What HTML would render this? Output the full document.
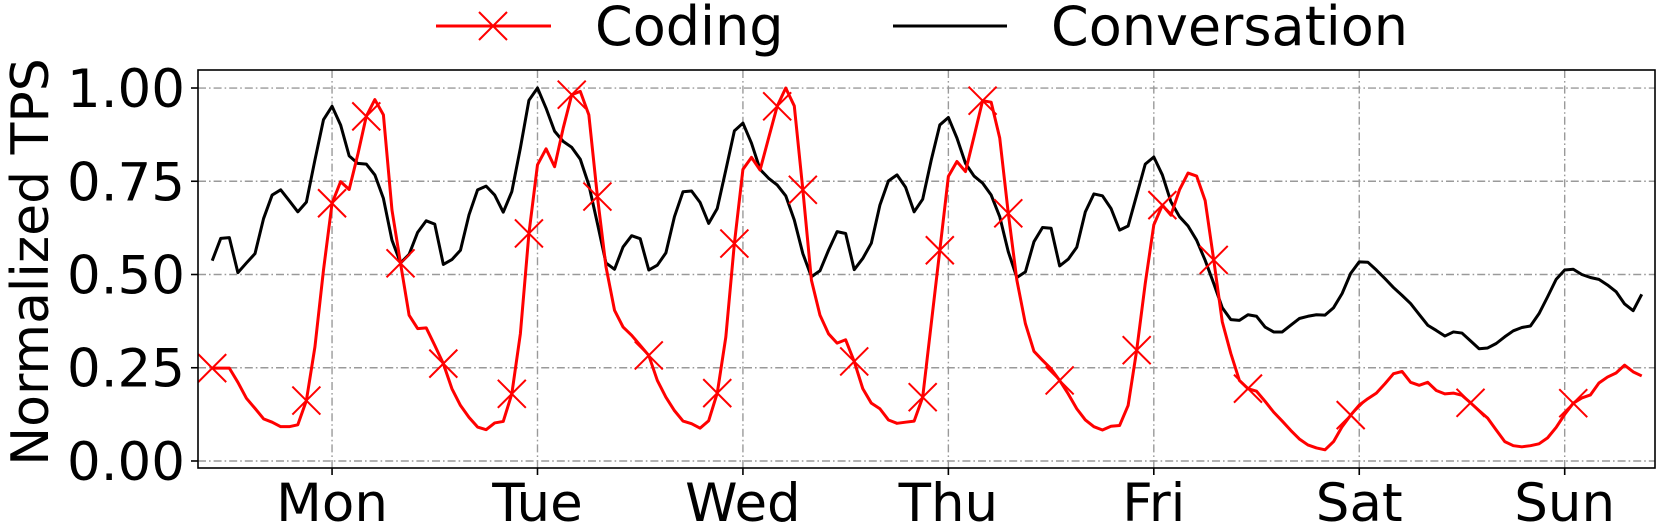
<!DOCTYPE html>
<html><head><meta charset="utf-8"><style>
html,body{margin:0;padding:0;background:#fff;}
svg{display:block;font-family:"DejaVu Sans","Liberation Sans",sans-serif;}
</style></head><body>
<svg id="chart" width="1661" height="527" viewBox="0 0 1661 527" xmlns="http://www.w3.org/2000/svg">
<g id="grid"></g>
<g id="series"></g>
<rect x="198" y="70" width="1457" height="398" fill="none" stroke="#000" stroke-width="1.6"/>
<g id="axes"></g>
<text x="0" y="0" transform="translate(48,262) rotate(-90)" text-anchor="middle" font-size="52" fill="#000">Normalized TPS</text>
<g>
<g>
<line x1="436" y1="26" x2="551" y2="26" stroke="#ff0000" stroke-width="3"/>
<path d="M479 12 L507 40 M507 12 L479 40" stroke="#ff0000" stroke-width="2"/>
<text x="595" y="45" font-size="54" fill="#000">Coding</text>
</g>
<g>
<line x1="893" y1="26" x2="1007" y2="26" stroke="#000" stroke-width="3"/>
<text x="1051" y="45" font-size="54" fill="#000">Conversation</text>
</g>
</g>
</svg>
<script>
const dayLabels = ["Mon","Tue","Wed","Thu","Fri","Sat","Sun"];
const dayTickHours = [14,38,62,86,110,134,158];
const yTicks = [0,0.25,0.5,0.75,1.0];
const yTickLabels = ["0.00","0.25","0.50","0.75","1.00"];
const codingValues = [0.249,0.249,0.249,0.211,0.168,0.141,0.113,0.104,0.092,0.092,0.097,0.162,0.306,0.512,0.691,0.749,0.728,0.821,0.924,0.969,0.928,0.673,0.53,0.391,0.355,0.357,0.31,0.261,0.194,0.149,0.117,0.091,0.084,0.102,0.106,0.18,0.341,0.61,0.794,0.837,0.789,0.892,0.982,0.991,0.928,0.709,0.521,0.404,0.359,0.337,0.31,0.283,0.216,0.171,0.135,0.107,0.1,0.088,0.108,0.182,0.332,0.583,0.782,0.814,0.78,0.866,0.951,1.0,0.952,0.727,0.485,0.391,0.341,0.316,0.325,0.267,0.194,0.155,0.14,0.11,0.101,0.104,0.107,0.171,0.368,0.565,0.763,0.803,0.776,0.87,0.966,0.962,0.866,0.664,0.485,0.368,0.294,0.27,0.247,0.216,0.18,0.14,0.11,0.092,0.083,0.093,0.095,0.149,0.297,0.476,0.633,0.686,0.659,0.727,0.772,0.764,0.698,0.539,0.373,0.288,0.216,0.194,0.187,0.16,0.131,0.107,0.082,0.059,0.043,0.035,0.03,0.052,0.092,0.123,0.15,0.167,0.182,0.207,0.234,0.24,0.211,0.203,0.211,0.189,0.18,0.182,0.176,0.156,0.135,0.115,0.083,0.052,0.041,0.038,0.041,0.046,0.062,0.09,0.125,0.155,0.169,0.177,0.209,0.225,0.236,0.257,0.239,0.228];
const conversationValues = [0.537,0.597,0.599,0.505,0.531,0.556,0.65,0.713,0.727,0.698,0.668,0.694,0.807,0.915,0.951,0.901,0.818,0.798,0.796,0.767,0.704,0.592,0.531,0.554,0.613,0.644,0.635,0.527,0.54,0.565,0.66,0.727,0.737,0.713,0.667,0.722,0.839,0.967,1.0,0.946,0.884,0.857,0.841,0.809,0.74,0.637,0.531,0.514,0.574,0.604,0.596,0.512,0.525,0.558,0.655,0.722,0.724,0.693,0.637,0.677,0.78,0.885,0.906,0.852,0.782,0.758,0.74,0.711,0.646,0.556,0.494,0.51,0.565,0.615,0.61,0.513,0.543,0.584,0.686,0.751,0.767,0.734,0.668,0.702,0.807,0.901,0.921,0.866,0.798,0.764,0.745,0.713,0.655,0.561,0.492,0.507,0.588,0.626,0.624,0.523,0.541,0.573,0.668,0.716,0.711,0.677,0.619,0.63,0.713,0.796,0.815,0.767,0.695,0.655,0.63,0.592,0.538,0.476,0.411,0.379,0.377,0.392,0.388,0.359,0.346,0.346,0.364,0.382,0.388,0.392,0.391,0.411,0.449,0.503,0.534,0.533,0.512,0.489,0.465,0.444,0.422,0.393,0.364,0.35,0.335,0.346,0.343,0.322,0.301,0.303,0.315,0.333,0.349,0.358,0.362,0.395,0.44,0.487,0.512,0.514,0.5,0.492,0.487,0.472,0.454,0.421,0.403,0.447];
const codingMarkerHours = [0,11,14,18,22,27,35,37,42,45,51,59,61,66,69,75,83,85,90,93,99,108,111,117,121,133,147,159];

const NS="http://www.w3.org/2000/svg";
const X0=198,X1=1655,Y0=70,Y1=468;
const xDom=[-1.66,168.55], yDom=[-0.0188,1.0483];
function xs(h){return X0+(h-xDom[0])/(xDom[1]-xDom[0])*(X1-X0);}
function ys(v){return Y1-(v-yDom[0])/(yDom[1]-yDom[0])*(Y1-Y0);}
function mk(tag,attrs,parent){const e=document.createElementNS(NS,tag);for(const k in attrs)e.setAttribute(k,attrs[k]);parent.appendChild(e);return e;}
const grid=document.getElementById('grid'),axes=document.getElementById('axes'),series=document.getElementById('series');
const dash="8,3,1.6,3";
yTicks.forEach((v,k)=>{
  const y=ys(v);
  const g=mk('line',{x1:X0,x2:X1,y1:y,y2:y,stroke:'#9a9a9a','stroke-width':1.4,'stroke-dasharray':dash},grid);
  
  
  const t=mk('line',{x1:X0-7,x2:X0,y1:y,y2:y,stroke:'#000','stroke-width':1.6},axes);
  
  
  const tx=mk('text',{x:185,y:y+19,'text-anchor':'end','font-size':53,fill:'#000'},axes);
  tx.textContent=yTickLabels[k];
  
  
});
dayTickHours.forEach((h,k)=>{
  const x=xs(h);
  const g=mk('line',{x1:x,x2:x,y1:Y0,y2:Y1,stroke:'#9a9a9a','stroke-width':1.4,'stroke-dasharray':dash},grid);
  
  
  const t=mk('line',{x1:x,x2:x,y1:Y1,y2:Y1+7,stroke:'#000','stroke-width':1.6},axes);
  
  
  const tx=mk('text',{x:x,y:521,'text-anchor':'middle','font-size':53,fill:'#000'},axes);
  tx.textContent=dayLabels[k];
  
  
});
function pts(vals){return vals.map((v,i)=>[xs(i),ys(v)]);}
const convPts=pts(conversationValues);
const cl=mk('polyline',{points:convPts.map(p=>p.join(',')).join(' '),fill:'none',stroke:'#000','stroke-width':3,'stroke-linejoin':'round'},series);


const codPts=pts(codingValues);
const rl=mk('polyline',{points:codPts.map(p=>p.join(',')).join(' '),fill:'none',stroke:'#ff0000','stroke-width':3,'stroke-linejoin':'round'},series);


codingMarkerHours.forEach(h=>{
  if(h>=codPts.length) return;
  const [x,y]=codPts[h];const s=14;
  const m=mk('path',{d:`M${x-s} ${y-s} L${x+s} ${y+s} M${x+s} ${y-s} L${x-s} ${y+s}`,stroke:'#ff0000','stroke-width':2,fill:'none'},series);
  
  
});
</script>
</body></html>
